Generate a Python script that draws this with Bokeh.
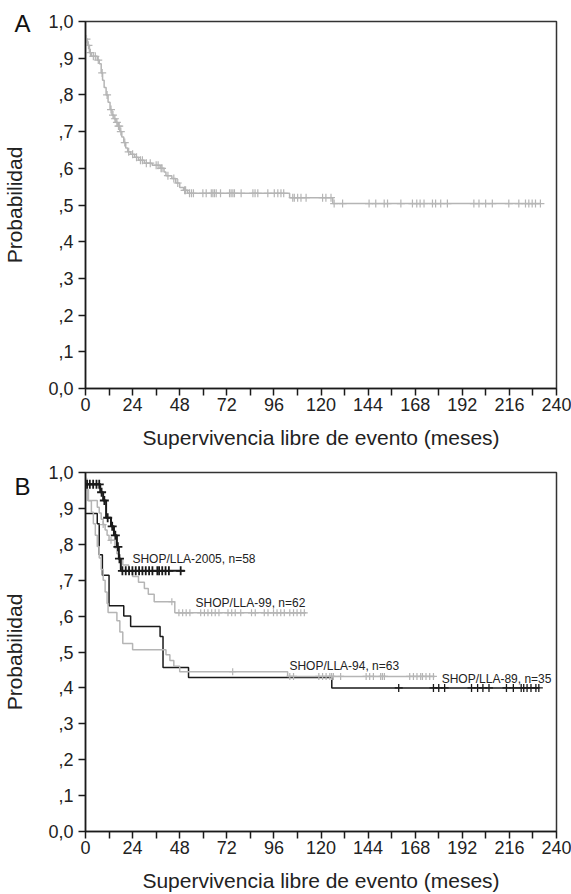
import numpy as np
from bokeh.plotting import figure
from bokeh.models import Range1d, FixedTicker, CustomJSTickFormatter, Label, LinearAxis
from bokeh.layouts import column
from bokeh.embed import file_html
from bokeh.resources import INLINE

FONT = "Liberation Sans"
GRAY = "#b5b5b5"
BLACK = "#1a1a1a"

# ---------------- data ----------------
x_major = [0, 24, 48, 72, 96, 120, 144, 168, 192, 216, 240]
x_minor = [12, 36, 60, 84, 108, 132, 156, 180, 204, 228]
y_ticks = [0.0, 0.1, 0.2, 0.3, 0.4, 0.5, 0.6, 0.7, 0.8, 0.9, 1.0]
y_tick_labels = ["0,0", ",1", ",2", ",3", ",4", ",5", ",6", ",7", ",8", ",9", "1,0"]
x_title = "Supervivencia libre de evento (meses)"
y_title = "Probabilidad"

# Panel A (all patients)
A_t = [0, 1, 2, 3, 6, 7, 8, 8.7, 9.5, 10.5, 11.5, 12.5, 13.5, 14.5, 15.5, 16.5, 17.5,
       18.5, 19.5, 20.5, 21.5, 23, 25, 27, 30, 34, 38, 40, 41, 44, 46, 48, 50, 52, 104, 126]
A_s = [0.952, 0.935, 0.915, 0.905, 0.895, 0.885, 0.86, 0.84, 0.82, 0.80, 0.78, 0.76, 0.745,
       0.735, 0.725, 0.715, 0.70, 0.685, 0.67, 0.655, 0.645, 0.638, 0.63, 0.622, 0.614, 0.608,
       0.60, 0.59, 0.58, 0.572, 0.56, 0.548, 0.54, 0.532, 0.52, 0.504]
A_end = 232
A_c = [0.5, 1.5, 2.5, 4, 5, 6.5, 8.5, 11, 13, 14, 15, 16, 16.8, 17.2, 18, 20, 22, 24, 26, 28,
       29, 31, 33, 36, 37, 38.5, 39, 42, 45, 47, 50.5, 51, 53, 54, 55, 59.8, 61.5, 64.1, 64.9,
       65.7, 66.6, 68.8, 73.4, 74.2, 75.1, 75.9, 79.3, 85.3, 86.4, 87.8, 92.9, 96.2, 98, 99.6,
       101, 105.6, 106.4, 108.1, 109.8, 112.4, 120.8, 122.5, 125.1, 126.7, 131, 144.5, 147.9,
       152.2, 153.9, 160.7, 166.6, 168.8, 170.5, 172.5, 176.8, 178.4, 181, 184.4, 197.9, 200.5,
       203.9, 207.3, 215.7, 220.8, 224.2, 225.9, 227.6, 229.3, 231.8]

# Panel B (by protocol)
B05_name = "SHOP/LLA-2005, n=58"
B05_t = [0, 7.5, 9, 10.5, 13, 14.5, 16, 17, 18]
B05_s = [0.967, 0.945, 0.922, 0.874, 0.85, 0.825, 0.793, 0.76, 0.726]
B05_end = 50.5
B05_c = [0.8, 2.2, 3.9, 5.6, 7.0, 8.2, 9.6, 11.3, 13.6, 15.2, 16.5, 17.3, 18.8, 20.5, 22.2,
         23.9, 25.6, 27.3, 29, 30.7, 32.4, 34.1, 36.6, 37.5, 39.1, 40.8, 42.5, 48.5]

B99_name = "SHOP/LLA-99, n=62"
B99_t = [0, 0.5, 1, 6, 7, 8, 9, 10, 11, 12, 15, 16, 17, 19, 22, 24, 27, 30, 32, 35, 45.5]
B99_s = [0.984, 0.952, 0.922, 0.903, 0.887, 0.87, 0.855, 0.84, 0.825, 0.811, 0.79, 0.774,
         0.758, 0.742, 0.726, 0.71, 0.694, 0.677, 0.661, 0.64, 0.609]
B99_end = 112.5
B99_c = [9, 13, 44, 47.6, 49.5, 51.3, 53.2, 58.7, 60.6, 62.4, 64.3, 66.1, 68, 72.6, 74.5, 76.3,
         79.1, 84.6, 86.5, 91.1, 93, 95.8, 97.6, 99.5, 101.3, 104.1, 106, 107.8, 109.7, 111.5]

B94_name = "SHOP/LLA-94, n=63"
B94_t = [0, 0.5, 1.5, 3, 4, 5, 6, 7, 8, 9, 10, 11, 11.5, 16, 17.5, 19, 24, 41, 43, 45, 48, 103]
B94_s = [0.984, 0.952, 0.921, 0.889, 0.857, 0.825, 0.794, 0.762, 0.73, 0.70, 0.667, 0.635,
         0.61, 0.587, 0.556, 0.524, 0.506, 0.492, 0.476, 0.46, 0.445, 0.432]
B94_end = 178
B94_c = [75, 104.1, 106, 118.9, 120.8, 122.6, 124.5, 125.4, 126.3, 130, 143, 144.8, 146.7,
         150.4, 151.3, 152.3, 165.2, 167.1, 168.9, 170.8, 171.7, 173.5, 175.4, 177.3]

B89_name = "SHOP/LLA-89, n=35"
B89_t = [0, 6, 7, 8.6, 12, 19.5, 23, 38, 39.5, 52.5, 125.5]
B89_s = [0.886, 0.857, 0.771, 0.714, 0.629, 0.60, 0.571, 0.543, 0.457, 0.429, 0.40]
B89_end = 231
B89_c = [159.6, 177.3, 180, 183, 196.7, 199.8, 202.5, 205.6, 214.5, 218, 222, 223.3, 225, 227,
         229.5, 231]

# curve label anchors (months, probability)
B05_lab = (23.9, 0.758)
B99_lab = (56.1, 0.637)
B94_lab = (103.9, 0.462)
B89_lab = (181.5, 0.424)

# panel letters and their heights (probability)
A_letter, A_letter_y = "A", 0.995
B_letter, B_letter_y = "B", 0.961


def surv_at(times, surv, t):
    idx = np.searchsorted(np.asarray(times), np.asarray(t), side="right") - 1
    idx = np.clip(idx, 0, len(surv) - 1)
    return list(np.asarray(surv)[idx])


def km(p, times, surv, end, cens, color, lw, msize, mlw):
    xs = list(times) + [end]
    ys = list(surv) + [surv[-1]]
    p.step(xs, ys, mode="after", line_color=color, line_width=lw)
    p.scatter(cens, surv_at(times, surv, cens), marker="cross", size=msize,
              line_color=color, line_width=mlw)


def style_axis(ax):
    ax.axis_line_color = "#1a1a1a"
    ax.axis_line_width = 1.5
    ax.major_tick_line_color = "#1a1a1a"
    ax.minor_tick_line_color = "#1a1a1a"
    ax.major_tick_line_width = 1.5
    ax.minor_tick_line_width = 1.5
    ax.major_tick_out = 7
    ax.major_tick_in = 0
    ax.minor_tick_out = 7
    ax.minor_tick_in = 0
    ax.major_label_text_font = FONT
    ax.major_label_text_font_size = "18px"
    ax.major_label_text_color = "#222222"
    ax.axis_label_text_font = FONT
    ax.axis_label_text_font_size = "21px"
    ax.axis_label_text_font_style = "normal"
    ax.axis_label_text_color = "#222222"


def make_fig(height, border_top, letter, letter_y):
    p = figure(width=571, height=height, output_backend="svg", toolbar_location=None,
               x_range=Range1d(0, 240), y_range=Range1d(0, 1),
               min_border_left=84, min_border_right=15,
               min_border_top=border_top, min_border_bottom=height - border_top - 10)
    p.xgrid.visible = False
    p.ygrid.visible = False
    p.background_fill_color = "white"
    p.border_fill_color = "white"
    p.outline_line_color = "#333333"
    p.outline_line_width = 1.5

    p.xaxis.ticker = FixedTicker(ticks=x_major, minor_ticks=x_minor)
    p.yaxis.ticker = FixedTicker(ticks=y_ticks, minor_ticks=[])
    p.yaxis.formatter = CustomJSTickFormatter(args=dict(labels=y_tick_labels),
                                              code="return labels[Math.round(tick*10)];")
    style_axis(p.xaxis[0])
    style_axis(p.yaxis[0])
    p.xaxis.major_label_standoff = 2
    p.yaxis.major_label_standoff = 5
    p.xaxis.axis_label = x_title
    p.xaxis.axis_label_standoff = 12

    # outer left axis: panel letter + y title
    la = LinearAxis(ticker=FixedTicker(ticks=[letter_y], minor_ticks=[]),
                    formatter=CustomJSTickFormatter(args=dict(t=letter), code="return t;"))
    style_axis(la)
    la.axis_line_color = None
    la.major_tick_line_color = None
    la.major_tick_out = 0
    la.minor_tick_out = 0
    la.major_label_text_font_size = "24px"
    la.major_label_text_color = "#111111"
    la.major_label_standoff = 15
    la.axis_label = y_title
    la.axis_label_standoff = -15
    p.add_layout(la, "left")
    return p


# ---------------- panel A ----------------
pa = make_fig(460, 21, A_letter, A_letter_y)
pa.min_border_bottom = 72
km(pa, A_t, A_s, A_end, A_c, GRAY, 1.5, 8, 1.2)

# ---------------- panel B ----------------
pb = make_fig(434, 12, B_letter, B_letter_y)
pb.min_border_bottom = 62
km(pb, B89_t, B89_s, B89_end, B89_c, BLACK, 1.5, 8, 1.3)
km(pb, B94_t, B94_s, B94_end, B94_c, GRAY, 1.5, 7, 1.2)
km(pb, B99_t, B99_s, B99_end, B99_c, GRAY, 1.5, 7, 1.2)
km(pb, B05_t, B05_s, B05_end, B05_c, BLACK, 2, 9, 1.8)

for name, (lx, ly) in ((B05_name, B05_lab), (B99_name, B99_lab),
                       (B94_name, B94_lab), (B89_name, B89_lab)):
    pb.add_layout(Label(x=lx, y=ly, text=name, text_font=FONT, text_font_size="12px",
                        text_align="left", text_baseline="middle", text_color="#222222"))

layout = column(pa, pb, spacing=0)
open("out.html", "w").write(file_html(layout, INLINE))
